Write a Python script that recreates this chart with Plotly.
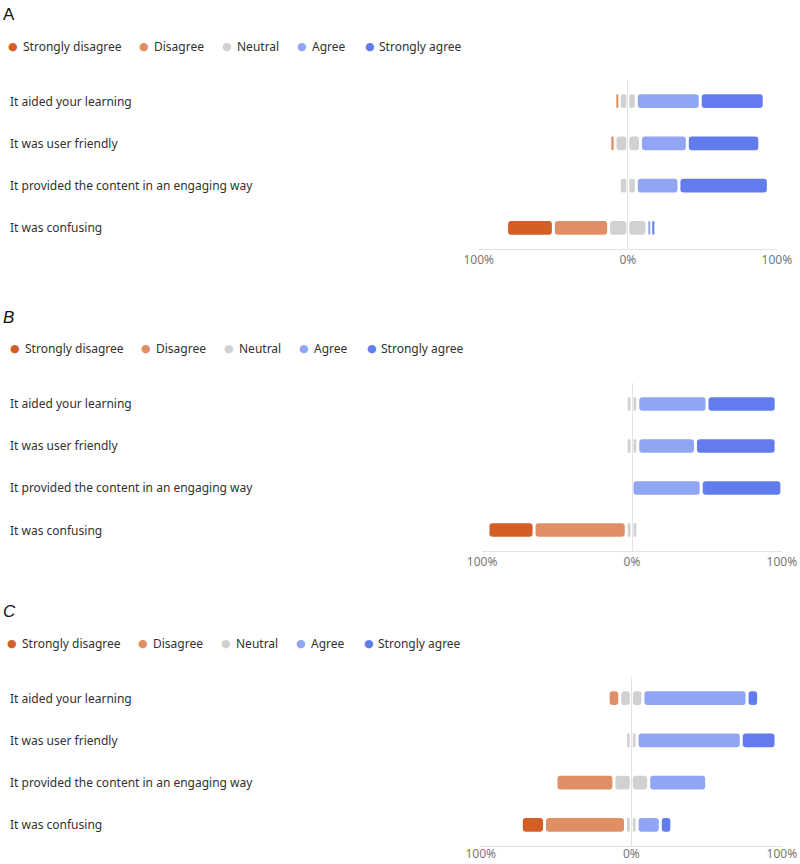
import plotly.graph_objects as go

categories = ["It aided your learning", "It was user friendly",
              "It provided the content in an engaging way", "It was confusing"]
levels = ["Strongly disagree", "Disagree", "Neutral", "Agree", "Strongly agree"]
colors = ["#d35f27", "#e08e66", "#d1d1d1", "#91a5f5", "#627ced"]
tick_vals = [-100, 0, 100]
tick_labels = ["100%", "0%", "100%"]
panel_letters = ["A", "<i>B</i>", "<i>C</i>"]

# Panel A (percent of respondents)
a_sd = [0, 0, 0, 31.4]
a_d = [2.9, 2.9, 0, 37.1]
a_n = [11.4, 17.1, 11.4, 25.7]
a_a = [42.9, 31.4, 28.6, 2.9]
a_sa = [42.9, 48.6, 60.0, 2.9]

# Panel B
b_sd = [0, 0, 0, 30.8]
b_d = [0, 0, 0, 61.5]
b_n = [7.7, 7.7, 0, 7.7]
b_a = [46.2, 38.5, 46.2, 0]
b_sa = [46.2, 53.8, 53.8, 0]

# Panel C
c_sd = [0, 0, 0, 15.4]
c_d = [7.7, 0, 38.5, 53.8]
c_n = [15.4, 7.7, 23.1, 7.7]
c_a = [69.2, 69.2, 38.5, 15.4]
c_sa = [7.7, 23.1, 0, 7.7]

panels = [
    dict(data=[a_sd, a_d, a_n, a_a, a_sa], xd=(478.3, 777.3), yd=(80, 249),
         letter_y=14, legend_y=47, legend_dx=0, standoff=0),
    dict(data=[b_sd, b_d, b_n, b_a, b_sa], xd=(481.7, 782.3), yd=(383, 551),
         letter_y=317, legend_y=349, legend_dx=2, standoff=0),
    dict(data=[c_sd, c_d, c_n, c_a, c_sa], xd=(480.3, 782.3), yd=(677, 846),
         letter_y=611, legend_y=643, legend_dx=-1, standoff=-3),
]

W, H = 800, 864
GAP = 2.0
MINW = 1.0
font_family = "Noto Sans, Open Sans, sans-serif"
text_color = "#323130"

legend_dot_x = [13, 144, 227, 302, 370]
legend_text_x = [21, 152, 235, 310, 377]

fig = go.Figure()
annotations = []
layout_axes = {}

for p_i, p in enumerate(panels):
    ax = "" if p_i == 0 else str(p_i + 1)
    sd, d, n, a, sa = p["data"]
    # segments: SD, D, N-left, N-right, A, SA
    seg_color_idx = [0, 1, 2, 2, 3, 4]
    seg_starts = [[] for _ in range(6)]
    seg_widths = [[] for _ in range(6)]
    for r in range(len(categories)):
        vals = [sd[r], d[r], n[r] / 2, n[r] / 2, a[r], sa[r]]
        s = -(sd[r] + d[r] + n[r] / 2)
        for k, v in enumerate(vals):
            if v <= 0:
                seg_starts[k].append(None)
                seg_widths[k].append(None)
            elif v - GAP >= MINW:
                seg_starts[k].append(s + GAP / 2)
                seg_widths[k].append(v - GAP)
            else:
                seg_starts[k].append(s + v / 2 - MINW / 2)
                seg_widths[k].append(MINW)
            s += v
    for k in range(6):
        fig.add_trace(go.Bar(
            y=categories, x=seg_widths[k], base=seg_starts[k], orientation="h",
            marker=dict(color=colors[seg_color_idx[k]], cornerradius=3, line=dict(width=0)),
            width=0.32, showlegend=False, hoverinfo="skip",
            xaxis="x" + ax, yaxis="y" + ax,
        ))

    layout_axes["xaxis" + ax] = dict(
        domain=[p["xd"][0] / W, p["xd"][1] / W], range=[-100.3, 100.3],
        anchor="y" + ax, tickvals=tick_vals, ticktext=tick_labels,
        showgrid=True, gridcolor="#e3e3e3", gridwidth=1, zeroline=False,
        showline=True, linecolor="#e3e3e3", linewidth=1, ticks="",
        ticklabelstandoff=p["standoff"],
        tickfont=dict(family=font_family, size=12, color="#777777"),
        fixedrange=True, automargin=False,
    )
    layout_axes["yaxis" + ax] = dict(
        domain=[1 - p["yd"][1] / H, 1 - p["yd"][0] / H], anchor="x" + ax,
        type="category", categoryorder="array", categoryarray=categories,
        range=[3.5, -0.5], showticklabels=False, showgrid=False, zeroline=False,
        showline=False, ticks="", fixedrange=True, automargin=False,
    )

    # category labels
    for c in categories:
        annotations.append(dict(
            x=8 / W, xref="paper", y=c, yref="y" + ax, text=c, showarrow=False,
            xanchor="left", yanchor="middle",
            font=dict(family=font_family, size=12, color=text_color),
        ))
    # panel letter
    annotations.append(dict(
        x=1 / W, xref="paper", y=1 - p["letter_y"] / H, yref="paper",
        text=panel_letters[p_i], showarrow=False, xanchor="left", yanchor="middle",
        font=dict(family="Liberation Sans, Arial, sans-serif", size=17, color="#111111"),
    ))
    # legend
    for j, lev in enumerate(levels):
        annotations.append(dict(
            x=(legend_dot_x[j] + p["legend_dx"]) / W, xref="paper",
            y=1 - p["legend_y"] / H, yref="paper", text="●", showarrow=False,
            xanchor="center", yanchor="middle",
            font=dict(family="DejaVu Sans", size=11, color=colors[j]),
        ))
        annotations.append(dict(
            x=(legend_text_x[j] + p["legend_dx"]) / W, xref="paper",
            y=1 - p["legend_y"] / H, yref="paper", text=lev, showarrow=False,
            xanchor="left", yanchor="middle",
            font=dict(family=font_family, size=12, color=text_color),
        ))

fig.update_layout(
    width=W, height=H, margin=dict(l=0, r=0, t=0, b=0, pad=0),
    paper_bgcolor="white", plot_bgcolor="white",
    barmode="overlay", showlegend=False,
    annotations=annotations, **layout_axes,
)

fig.write_html("out.html")
